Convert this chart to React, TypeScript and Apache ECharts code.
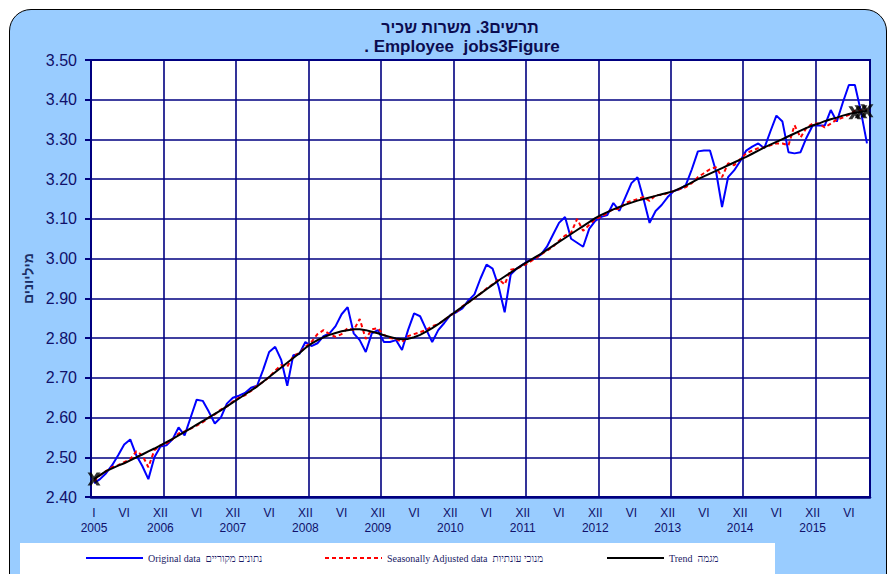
import React, { useEffect, useRef } from "react";
import * as echarts from "echarts";

const YEARS = [2005, 2006, 2007, 2008, 2009, 2010, 2011, 2012, 2013, 2014, 2015];
const MONTHS = ["I", "II", "III", "IV", "V", "VI", "VII", "VIII", "IX", "X", "XI", "XII"];

const ORIGINAL = [
  2.435, 2.445, 2.46, 2.48, 2.505, 2.532, 2.545, 2.505, 2.478, 2.445, 2.5, 2.527,
  2.53, 2.545, 2.575, 2.555, 2.6, 2.645, 2.642, 2.615, 2.585, 2.6, 2.635, 2.65,
  2.655, 2.662, 2.675, 2.68, 2.72, 2.765, 2.778, 2.745, 2.68, 2.757, 2.76, 2.79,
  2.78, 2.787, 2.805, 2.812, 2.83, 2.86, 2.878, 2.812, 2.795, 2.765, 2.812, 2.82,
  2.79, 2.79, 2.795, 2.77, 2.82, 2.862, 2.855, 2.822, 2.79, 2.82, 2.838, 2.858,
  2.865, 2.875, 2.895, 2.91, 2.95, 2.985, 2.975, 2.93, 2.865, 2.96, 2.975, 2.985,
  2.995, 3.0, 3.01, 3.03, 3.06, 3.09, 3.105, 3.05, 3.04, 3.03, 3.075, 3.095,
  3.105, 3.11, 3.14, 3.12, 3.155, 3.19, 3.205, 3.15, 3.09, 3.12, 3.135, 3.155,
  3.17, 3.175, 3.185, 3.225, 3.27, 3.272, 3.272, 3.22, 3.13, 3.205, 3.222, 3.245,
  3.272, 3.282, 3.29, 3.278, 3.32, 3.36, 3.345, 3.268, 3.265, 3.268, 3.305, 3.335,
  3.335, 3.335, 3.374, 3.345, 3.393, 3.437, 3.437, 3.37, 3.29,
];

const SEASONALLY_ADJUSTED = [
  2.44, 2.455, 2.465, 2.475, 2.48, 2.488, 2.495, 2.515, 2.505, 2.475, 2.518, 2.53,
  2.535, 2.545, 2.56, 2.565, 2.572, 2.58, 2.588, 2.6, 2.608, 2.62, 2.628, 2.64,
  2.65, 2.656, 2.667, 2.68, 2.69, 2.702, 2.718, 2.732, 2.728, 2.755, 2.762, 2.778,
  2.79, 2.81, 2.82, 2.81, 2.803, 2.81, 2.825, 2.82, 2.848, 2.798, 2.822, 2.825,
  2.808, 2.8, 2.798, 2.79, 2.805, 2.81, 2.815, 2.82, 2.83, 2.835, 2.845, 2.858,
  2.865, 2.88, 2.89, 2.9, 2.912, 2.925, 2.935, 2.948, 2.935, 2.972, 2.975, 2.982,
  2.99, 3.0, 3.01, 3.02, 3.03, 3.045, 3.058, 3.065, 3.1, 3.07, 3.085, 3.1,
  3.105, 3.115, 3.125, 3.125, 3.14, 3.145, 3.15, 3.155, 3.145, 3.16, 3.16, 3.165,
  3.17, 3.175, 3.18, 3.19, 3.205, 3.215, 3.225, 3.23, 3.205, 3.24, 3.235, 3.25,
  3.265, 3.272, 3.278, 3.28, 3.285, 3.29, 3.29, 3.285, 3.336, 3.305, 3.33, 3.34,
  3.34, 3.33, 3.34, 3.35, 3.355, 3.362, 3.372, 3.372, 3.375,
];

const TREND = [
  2.445, 2.455, 2.465, 2.472, 2.479, 2.485, 2.492, 2.5, 2.507, 2.515, 2.522, 2.53,
  2.538, 2.546, 2.555, 2.564, 2.573, 2.582, 2.591, 2.6, 2.609, 2.618, 2.628, 2.638,
  2.648, 2.658, 2.668, 2.678, 2.69, 2.702, 2.714, 2.726, 2.738, 2.75, 2.762, 2.775,
  2.786, 2.795, 2.802, 2.808, 2.813, 2.817, 2.82, 2.822, 2.822, 2.82, 2.816, 2.812,
  2.807, 2.803, 2.799, 2.797, 2.798, 2.802, 2.808, 2.816, 2.825, 2.835, 2.846, 2.857,
  2.868, 2.879, 2.89, 2.901, 2.912, 2.923, 2.934, 2.945, 2.955, 2.965, 2.975, 2.985,
  2.994, 3.003, 3.012, 3.022, 3.032, 3.042, 3.052, 3.062, 3.072, 3.082, 3.092, 3.102,
  3.11, 3.117, 3.124, 3.13, 3.136, 3.141, 3.146, 3.15, 3.154, 3.158, 3.162, 3.166,
  3.17, 3.177, 3.184, 3.192, 3.2, 3.207, 3.214, 3.221, 3.228, 3.235, 3.242, 3.249,
  3.256, 3.264, 3.272, 3.28, 3.287, 3.294, 3.301, 3.308, 3.315, 3.322, 3.329, 3.335,
  3.34, 3.346, 3.351, 3.355, 3.36, 3.364, 3.367, 3.37, 3.372,
];

const TREND_MARKER_INDEXES = [0, 126, 127, 128];

const TITLE_HE = "תרשים3. משרות שכיר";
const TITLE_EN = ". Employee  jobs3Figure";
const Y_NAME = "מיליונים";
const NAME_ORIG = "Original data  נתונים מקוריים";
const NAME_SA = "Seasonally Adjusted data  מנוכי עונתיות";
const NAME_TREND = "Trend  מגמה";

const CATEGORIES = YEARS.flatMap((y) => MONTHS.map((m) => `${m} ${y}`)).slice(0, ORIGINAL.length);

const X_PATH = "path://M0,0L3,0L5,3L7,0L10,0L6.6,5L10,10L7,10L5,7L3,10L0,10L3.4,5Z";
const NAVY = "#000080";
const LABEL = "#10106a";

export default function App() {
  const ref = useRef<HTMLDivElement>(null);

  useEffect(() => {
    document.body.style.margin = "0";
    if (!ref.current) return;
    const chart = echarts.init(ref.current, undefined, { renderer: "svg" });

    const legendCommon = {
      orient: "horizontal",
      top: 553,
      padding: 0,
      itemWidth: 57,
      itemHeight: 12,
      itemGap: 5,
      selectedMode: false,
      itemStyle: { opacity: 0 },
      textStyle: { fontFamily: "Liberation Serif", fontSize: 10, color: "#1a1a66" },
    };

    const isLabel = (i: number) => i === 0 || i % 12 === 5 || i % 12 === 11;

    chart.setOption({
      animation: false,
      backgroundColor: "transparent",
      textStyle: { fontFamily: "Liberation Sans" },
      title: [
        {
          text: TITLE_HE,
          left: 460,
          top: 19,
          textAlign: "center",
          padding: 0,
          textStyle: { fontFamily: "Liberation Sans", fontSize: 16, fontWeight: "bold", color: "#0c0c50" },
        },
        {
          text: TITLE_EN,
          left: 462,
          top: 38,
          textAlign: "center",
          padding: 0,
          textStyle: { fontFamily: "Liberation Sans", fontSize: 17, fontWeight: "bold", color: "#0c0c50" },
        },
      ],
      legend: [
        { ...legendCommon, left: 85, data: [NAME_ORIG] },
        { ...legendCommon, left: 324, data: [NAME_SA] },
        { ...legendCommon, left: 606, data: [NAME_TREND] },
      ],
      grid: {
        left: 91,
        right: 18,
        top: 60,
        bottom: 77,
        show: true,
        backgroundColor: "#ffffff",
        borderColor: NAVY,
        borderWidth: 2,
      },
      xAxis: {
        type: "category",
        data: CATEGORIES,
        boundaryGap: true,
        axisLine: { lineStyle: { color: NAVY, width: 2.5 } },
        axisTick: { show: false },
        axisLabel: {
          interval: (i: number) => isLabel(i),
          formatter: (_v: string, i: number) => {
            const m = i % 12;
            const y = YEARS[Math.floor(i / 12)];
            if (i === 0) return `I\n${y}`;
            if (m === 5) return "VI";
            if (m === 11) return `XII\n${y + 1}`;
            return "";
          },
          color: LABEL,
          fontSize: 12,
          lineHeight: 15,
          margin: 8,
          fontFamily: "Liberation Sans",
        },
        splitLine: {
          show: true,
          interval: (i: number) => i % 12 === 0,
          lineStyle: { color: NAVY, width: 1.6 },
        },
      },
      yAxis: {
        type: "value",
        min: 2.4,
        max: 3.5,
        interval: 0.1,
        name: Y_NAME,
        nameLocation: "middle",
        nameGap: 53,
        nameRotate: 90,
        nameTextStyle: { fontSize: 14, fontWeight: "bold", color: "#1c2f66", fontFamily: "Liberation Sans" },
        axisLine: { show: true, lineStyle: { color: NAVY, width: 2 } },
        axisTick: { show: true, length: 6, lineStyle: { color: NAVY, width: 2 } },
        axisLabel: {
          formatter: (v: number) => v.toFixed(2),
          color: LABEL,
          fontSize: 16,
          margin: 14,
          fontFamily: "Liberation Sans",
        },
        splitLine: { show: true, lineStyle: { color: NAVY, width: 1.6 } },
      },
      series: [
        {
          name: NAME_ORIG,
          type: "line",
          data: ORIGINAL,
          symbol: "none",
          lineStyle: { color: "#0000ff", width: 2 },
          itemStyle: { color: "#0000ff" },
          z: 2,
        },
        {
          name: NAME_SA,
          type: "line",
          data: SEASONALLY_ADJUSTED,
          symbol: "none",
          lineStyle: { color: "#ff0000", width: 2, type: [4, 3] },
          itemStyle: { color: "#ff0000" },
          z: 3,
        },
        {
          name: NAME_TREND,
          type: "line",
          data: TREND,
          symbol: "none",
          lineStyle: { color: "#000000", width: 2 },
          itemStyle: { color: "#000000" },
          z: 4,
        },
        {
          name: "trend-markers",
          type: "scatter",
          data: TREND_MARKER_INDEXES.map((i) => [i, TREND[i]]),
          symbol: X_PATH,
          symbolSize: 13,
          itemStyle: { color: "#000000" },
          silent: true,
          z: 5,
        },
      ],
    });

    return () => chart.dispose();
  }, []);

  return (
    <div style={{ position: "relative", width: 888, height: 574, overflow: "hidden", background: "#ffffff" }}>
      <div
        style={{
          position: "absolute",
          left: 9,
          top: 9,
          width: 878,
          height: 600,
          boxSizing: "border-box",
          border: "1.5px solid #000",
          borderRadius: 22,
          background: "#99ccff",
        }}
      />
      <div
        style={{
          position: "absolute",
          left: 20,
          top: 543,
          width: 755,
          height: 40,
          background: "#ffffff",
        }}
      />
      <div ref={ref} style={{ position: "absolute", left: 0, top: 0, width: 888, height: 574 }} />
    </div>
  );
}
